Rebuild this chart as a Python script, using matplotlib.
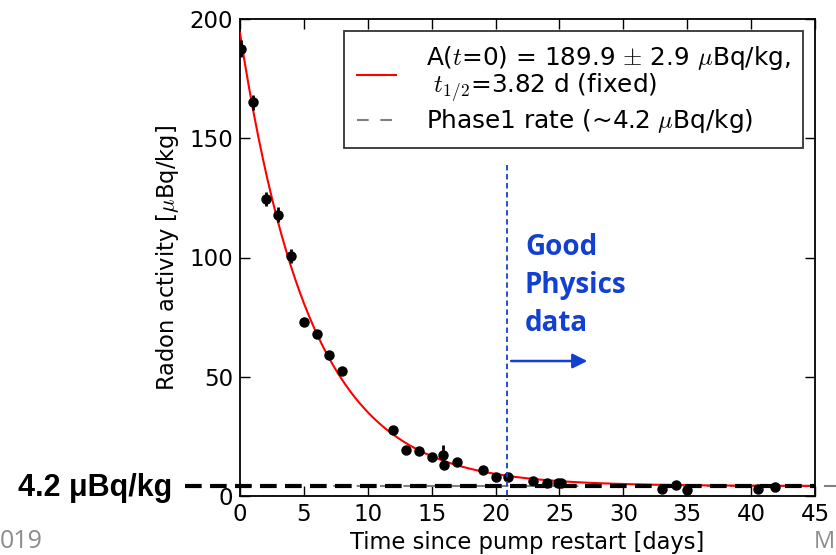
import numpy as np
import matplotlib
matplotlib.use("Agg")
import matplotlib.pyplot as plt

plt.rcParams['font.family'] = ['DejaVu Sans']
plt.rcParams['mathtext.fontset'] = 'cm'

# ---- data ----
days = [0.1, 1.0, 2.0, 3.0, 4.0, 5.0, 6.0, 7.0, 8.0, 12.0, 13.0, 14.0, 15.0, 15.9, 16.0,
        17.0, 19.0, 20.0, 21.0, 22.9, 24.0, 24.9, 25.1, 33.0, 34.1, 35.0, 40.5, 41.9]
activity = [187.5, 165.0, 124.5, 118.0, 100.5, 73.0, 68.0, 59.0, 52.5, 27.5, 19.3, 18.9, 16.4, 17.2, 13.0,
            14.3, 10.9, 7.9, 8.0, 6.3, 5.5, 5.6, 5.3, 2.9, 4.6, 2.5, 2.9, 3.8]
errors = [3.5, 3.0, 3.0, 3.0, 3.0, 1.5, 1.5, 1.5, 1.5, 1.0, 1.0, 1.0, 1.0, 4.0, 1.5,
          1.0, 1.0, 1.0, 1.0, 1.0, 1.0, 1.0, 1.0, 1.0, 1.0, 1.0, 1.0, 1.0]

A0 = 189.9          # fitted amplitude
t_half = 3.82       # days
phase1_rate = 4.2   # uBq/kg
good_start = 20.9   # days
x_ticks = [0, 5, 10, 15, 20, 25, 30, 35, 40, 45]
y_ticks = [0, 50, 100, 150, 200]

fig = plt.figure(figsize=(8.36, 5.55), dpi=100)
ax = fig.add_axes([240/836, 1-496/555, 575/836, 477/555])

t = np.linspace(0, 45, 500)
fit = A0 * np.exp(-np.log(2) * t / t_half) + phase1_rate
ax.plot(t, fit, color='red', lw=1.5,
        label="A($t$=0) = 189.9 $\\pm$ 2.9 $\\mu$Bq/kg,\n $t_{1/2}$=3.82 d (fixed)", zorder=3)
ax.plot([0, 45], [phase1_rate, phase1_rate], color='grey', ls=(0, (5.6, 5.6)), lw=1.5,
        label="Phase1 rate (~4.2 $\\mu$Bq/kg)", zorder=2)
ax.errorbar(days, activity, yerr=errors, fmt='o', color='black', ms=6.5, elinewidth=2,
            capsize=0, zorder=4)

ax.set_xlim(0, 45)
ax.set_ylim(0, 200)
ax.set_xticks(x_ticks)
ax.set_yticks(y_ticks)
ax.tick_params(direction='in', length=7, width=1, top=True, right=True, labelsize=16.5, pad=5)
for s in ax.spines.values():
    s.set_linewidth(1.3)
ax.set_xlabel("Time since pump restart [days]", fontsize=16.3, labelpad=4)
ax.set_ylabel("Radon activity [$\\mu$Bq/kg]", fontsize=16.3, labelpad=6)

leg = ax.legend(loc='upper right', fontsize=17.8, frameon=True, fancybox=False,
                edgecolor='black', borderaxespad=0.5, handlelength=1.6,
                handletextpad=1.2, borderpad=0.5, labelspacing=0.1)
leg.get_frame().set_linewidth(1.3)
for txt in leg.get_texts():
    txt.set_linespacing(1.0)

# blue "good physics" marker
blue = '#1240d0'
ax.plot([good_start, good_start], [138.8, -1.7], color=blue, ls=(0, (3, 2)), lw=1.3,
        clip_on=False, zorder=5)
ax.annotate('', xy=(27.4, 56.6), xytext=(21.0, 56.6),
            arrowprops=dict(arrowstyle='-|>', color=blue, lw=1.8, mutation_scale=22))
for txt, yv in [("Good", 101.0), ("Physics", 85.0), ("data", 69.0)]:
    ax.text(22.3, yv, txt, color=blue, fontsize=20, fontweight='bold',
            family='Open Sans', va='baseline', ha='left')

# slide overlay annotation
ax.plot([-4.3, 45.0], [phase1_rate, phase1_rate], color='black', ls=(0, (4, 2)), lw=3,
        clip_on=False, zorder=6)
ax.plot([45.8, 46.8], [phase1_rate, phase1_rate], color='grey', lw=1.5,
        clip_on=False, zorder=6)
fig.text(18/836, 1-488/555, "4.2 \u03bcBq/kg", fontsize=22, fontweight='bold',
         family='Liberation Sans', va='center', ha='left')
fig.text(0/836, 1-542/555, "019", fontsize=18, color='#8c8c8c', family='Open Sans',
         va='center', ha='left')
fig.text(835/836, 1-542/555, "M", fontsize=17, color='#8c8c8c', family='Open Sans',
         va='center', ha='right')

fig.savefig('out.png', dpi=100)
